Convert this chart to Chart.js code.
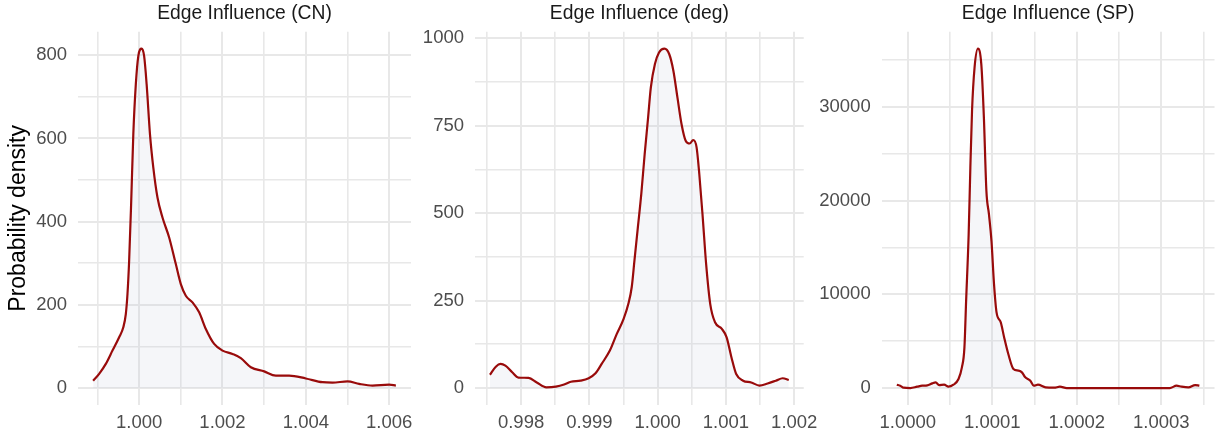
<!DOCTYPE html>
<html>
<head>
<meta charset="utf-8">
<title>Edge Influence densities</title>
<script src="https://cdn.jsdelivr.net/npm/chart.js@4.4.1/dist/chart.umd.min.js"></script>
<style>
  body { margin: 0; background: #fff; }
  #wrap { position: relative; width: 1218px; height: 436px; overflow: hidden; }
  canvas { position: absolute; top: 0; }
</style>
</head>
<body>
<div id="wrap">
  <canvas id="cn" width="420" height="436" style="left:0px"></canvas>
  <canvas id="deg" width="410" height="436" style="left:415px"></canvas>
  <canvas id="sp" width="403" height="436" style="left:815px"></canvas>
</div>
<script>
// density curves (x = edge influence, y = probability density)
var cnX = [0.998896, 0.99904, 0.99920, 0.99936, 0.99952, 0.99962, 0.99968, 0.99972, 0.99976, 0.99981,
           0.99986, 0.99992, 0.99998, 1.00006, 1.00012, 1.00018, 1.00026, 1.00034, 1.00044, 1.00056,
           1.00072, 1.00088, 1.00100, 1.00112, 1.00128, 1.00144, 1.00160, 1.00180, 1.00200, 1.00224,
           1.00244, 1.00268, 1.00300, 1.00328, 1.00360, 1.00400, 1.00440, 1.00464, 1.00500, 1.00528,
           1.00560, 1.00600, 1.00616];
var cnY = [17.6, 34, 58, 90, 122, 146, 178, 226, 306, 450,
           610, 730, 798, 816, 798, 730, 610, 530, 458, 410,
           362, 298, 250, 222, 206, 182, 142, 106, 90, 82,
           72, 50, 40, 30, 30, 23, 14, 13, 16, 10,
           6, 8, 6];

var degX = [0.997544, 0.99763, 0.99770, 0.99777, 0.99787, 0.99796, 0.99811, 0.99823, 0.99837, 0.99851,
            0.99863, 0.99873, 0.99887, 0.99899, 0.99909, 0.99918, 0.99930, 0.99940, 0.99950, 0.99957,
            0.99962, 0.99966, 0.99971, 0.99976, 0.99981, 0.99986, 0.99990, 0.99996, 1.00002, 1.00010,
            1.00017, 1.00023, 1.00029, 1.00035, 1.00041, 1.00047, 1.00052, 1.00057, 1.00061, 1.00066,
            1.00071, 1.00077, 1.00084, 1.00094, 1.00101, 1.00108, 1.00115, 1.00125, 1.00137, 1.00149,
            1.00161, 1.00173, 1.00183, 1.00192];
var degY = [38, 61, 69, 64, 45, 30, 29, 16, 2, 4,
            10, 18, 21, 28, 42, 69, 107, 154, 197, 240,
            288, 364, 459, 554, 669, 773, 859, 926, 959, 970,
            954, 907, 830, 754, 707, 699, 709, 688, 611, 488,
            354, 240, 188, 169, 145, 88, 40, 21, 16, 7,
            13, 21, 28, 23];

var spX = [0.999987, 0.999991, 0.999995, 1.000003, 1.000011, 1.000017, 1.000023, 1.000029, 1.000033, 1.000037,
           1.000043, 1.000048, 1.000054, 1.000060, 1.000064, 1.000067, 1.000069, 1.000072, 1.000074, 1.000076,
           1.000079, 1.000083, 1.000087, 1.000090, 1.000093, 1.000096, 1.000099, 1.000102, 1.000105, 1.000110,
           1.000114, 1.000119, 1.000125, 1.000131, 1.000135, 1.000139, 1.000145, 1.000149, 1.000154, 1.000163,
           1.000173, 1.000180, 1.000188, 1.000228, 1.000267, 1.000310, 1.000318, 1.000324, 1.000332, 1.000340,
           1.000345];
var spY = [355, 250, 36, 0, 142, 250, 284, 500, 600, 320,
           355, 142, 355, 960, 2200, 4340, 9300, 16400, 23500, 29600,
           34200, 36200, 34500, 28900, 21000, 18550, 15700, 11100, 8070, 7000,
           5400, 3600, 2030, 1850, 1670, 1140, 780, 250, 355, 70,
           36, 142, 0, 0, 0, 0, 250, 142, 70, 320,
           250];

// labelled ticks; unlabelled minor grid lines sit halfway between them
var cnXLabels = ['1.000', '1.002', '1.004', '1.006'];
var cnYLabels = ['0', '200', '400', '600', '800'];
var degXLabels = ['0.998', '0.999', '1.000', '1.001', '1.002'];
var degYLabels = ['0', '250', '500', '750', '1000'];
var spXLabels = ['1.0000', '1.0001', '1.0002', '1.0003'];
var spYLabels = ['0', '10000', '20000', '30000'];

var FONT = "'Liberation Sans', Arial, Helvetica, sans-serif";
var LINE = '#990b0b';
var FILL = 'rgba(190, 200, 215, 0.16)';
var GRID = '#e8e8e8';

function withMinor(labels, lo, hi) {
    var vals = labels.map(Number);
    var step = vals[1] - vals[0];
    var out = [];
    for (var i = 0; i < vals.length; i++) {
        out.push({value: vals[i] - step / 2, lbl: ''});
        out.push({value: vals[i], lbl: labels[i]});
    }
    out.push({value: vals[vals.length - 1] + step / 2, lbl: ''});
    return out.filter(function (t) { return t.value >= lo && t.value <= hi; });
}

function axisOpts(ticks, lo, hi, pad) {
    return {
        type: 'linear', min: lo, max: hi,
        border: {display: false},
        grid: {
            color: GRID, drawTicks: false,
            lineWidth: function (c) { return c.tick && c.tick.lbl ? 2 : 1.6; }
        },
        ticks: {
            autoSkip: false, maxRotation: 0, padding: pad, color: '#4d4d4d',
            font: {family: FONT, size: 18.5},
            callback: function (v, i, t) { return t[i].lbl; }
        },
        afterBuildTicks: function (s) {
            s.ticks = ticks.map(function (t) { return {value: t.value, lbl: t.lbl}; });
        }
    };
}

function createPanel(id, title, xs, ys, xLabels, yLabels, box) {
    var xLo = Math.min.apply(null, xs), xHi = Math.max.apply(null, xs);
    var xMin = xLo - 0.05 * (xHi - xLo), xMax = xHi + 0.05 * (xHi - xLo);
    var yTop = Math.max.apply(null, ys);
    var yMin = -0.05 * yTop, yMax = 1.05 * yTop;

    var x = axisOpts(withMinor(xLabels, xMin, xMax), xMin, xMax, 7);
    x.afterFit = function (s) { s.height = 31; };
    var y = axisOpts(withMinor(yLabels, yMin, yMax), yMin, yMax, 11);
    y.afterFit = function (s) { s.width = box.yWidth; };
    if (box.yTitle) {
        y.title = {
            display: true, text: box.yTitle, color: '#000',
            font: {family: FONT, size: 23, lineHeight: 1},
            padding: {top: 7, bottom: 0}
        };
    }

    new Chart(document.getElementById(id), {
        type: 'line',
        data: {
            datasets: [{
                data: xs.map(function (v, i) { return {x: v, y: ys[i]}; }),
                borderColor: LINE,
                borderWidth: 2.2,
                backgroundColor: FILL,
                fill: 'origin',
                pointRadius: 0,
                cubicInterpolationMode: 'monotone'
            }]
        },
        options: {
            responsive: false,
            animation: false,
            devicePixelRatio: 1,
            layout: {padding: {left: 0, right: box.padRight, top: 0, bottom: 0}},
            plugins: {
                legend: {display: false},
                tooltip: {enabled: false},
                title: {
                    display: true, text: title, fullSize: false, color: '#1a1a1a',
                    font: {family: FONT, size: 19.3, weight: 'normal', lineHeight: 1},
                    padding: {top: 4.5, bottom: 7.9}
                }
            },
            scales: {x: x, y: y}
        }
    });
}

createPanel('cn', 'Edge Influence (CN)', cnX, cnY, cnXLabels, cnYLabels,
    {yWidth: 78, padRight: 9, yTitle: 'Probability density'});
createPanel('deg', 'Edge Influence (deg)', degX, degY, degXLabels, degYLabels,
    {yWidth: 60, padRight: 17});
createPanel('sp', 'Edge Influence (SP)', spX, spY, spXLabels, spYLabels,
    {yWidth: 66.7, padRight: 3.5});
</script>
</body>
</html>
